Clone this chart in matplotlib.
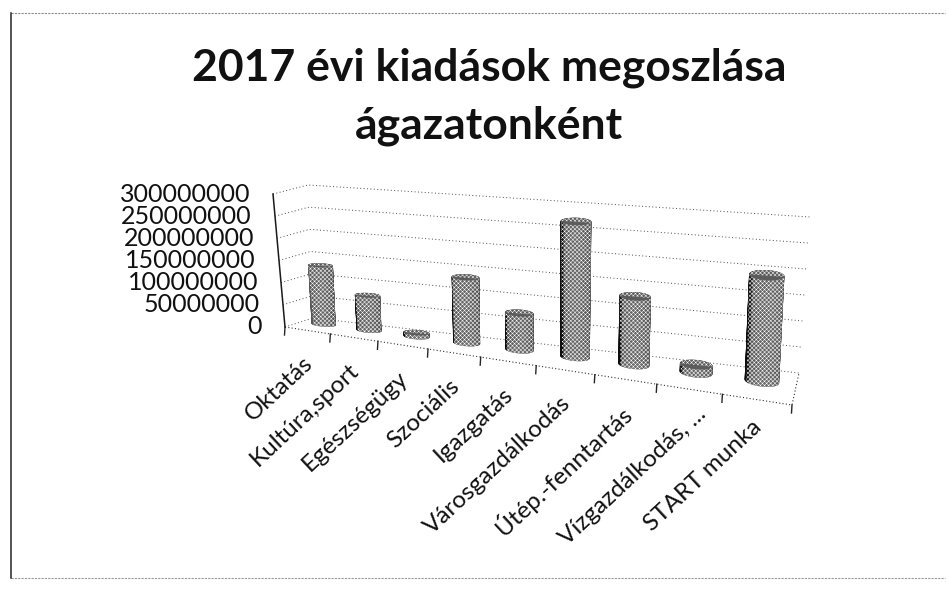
import matplotlib

matplotlib.use("Agg")
import matplotlib.pyplot as plt
import numpy as np

categories = ["Oktatás", "Kultúra,sport", "Egészségügy", "Szociális", "Igazgatás",
              "Városgazdálkodás", "Útép.-fenntartás", "Vízgazdálkodás, ...", "START munka"]
values = [132e6, 77e6, 8e6, 140e6, 77e6, 279e6, 138e6, 16e6, 206e6]
value_ticks = [0, 50000000, 100000000, 150000000, 200000000, 250000000, 300000000]
title_lines = ["2017 évi kiadások megoszlása", "ágazatonként"]

VMAX = 300e6
N = len(categories)
BAR_DEPTH = 0.6

# ── hand-fitted 3D look: floor corners in pixels, perspective along the category axis ──
FRONT_L, FRONT_R = np.array([285.0, 327.0]), np.array([792.0, 405.0])
DEPTH_L, DEPTH_R = np.array([28.0, -9.0]), np.array([7.0, -32.0])
PERSP = -0.0238
# labels that sit off the common anchor in the original (dx, dy in pixels)
LABEL_NUDGE = {"Vízgazdálkodás, ...": (12, -8), "START munka": (0, -6)}


def project(t, d, v):
    """category position t, depth d (0 front, 1 back), value v -> pixel x, y"""
    t, d, v = np.broadcast_arrays(np.asarray(t, float), np.asarray(d, float), np.asarray(v, float))
    s = ((1 + N * PERSP) / N) * t / (1 + PERSP * t)
    share = v / VMAX
    height = 133 + 23 * s
    lean = -12 + 7 * d + 16 * s
    x = FRONT_L[0] + (FRONT_R[0] - FRONT_L[0]) * s + d * (DEPTH_L[0] + (DEPTH_R[0] - DEPTH_L[0]) * s) + lean * share
    y = FRONT_L[1] + (FRONT_R[1] - FRONT_L[1]) * s + d * (DEPTH_L[1] + (DEPTH_R[1] - DEPTH_L[1]) * s) - height * share
    return x, y


def cylinder(ax, i, value, rx=0.25, rd=0.16, n=48):
    theta = np.linspace(0, 2 * np.pi, n + 1)
    cx = i + 0.5 + rx * np.cos(theta)
    cd = BAR_DEPTH + rd * np.sin(theta)
    bx, by = project(cx, cd, 0)
    tx, ty = project(cx, cd, value)
    lo, hi = min(bx.min(), tx.min()), max(bx.max(), tx.max())
    order = np.argsort((by[:-1] + by[1:]) / 2)
    for k in order:
        u = ((bx[k] + bx[k + 1]) / 2 - lo) / (hi - lo)
        shade = 0.05 if u < 0.1 else 0.3 + 0.1 * np.sin(np.pi * u)
        ax.fill([bx[k], bx[k + 1], tx[k + 1], tx[k]], [by[k], by[k + 1], ty[k + 1], ty[k]],
                color=str(shade), lw=0.3, zorder=3)
    ax.fill(tx, ty, color="0.36", lw=0.3, zorder=4)
    # scanner dither on top of the shaded body
    front = np.argsort(by)[-(n // 2):]
    front = front[np.argsort(bx[front])]
    sx = np.r_[tx[np.argmin(bx)], bx[front], tx[np.argmax(bx)], tx[::-1]]
    sy = np.r_[ty[np.argmin(bx)], by[front], ty[np.argmax(bx)], ty[::-1]]
    ax.fill(sx, sy, facecolor="none", edgecolor="white", hatch="xxxxxxxx", lw=0, zorder=5)


plt.rcParams["hatch.linewidth"] = 0.35
fig = plt.figure(figsize=(9.5, 5.89), dpi=100)
ax = fig.add_axes([0, 0, 1, 1])
ax.set_xlim(0, 950)
ax.set_ylim(589, 0)
ax.axis("off")

# scanned page frame
ax.plot([11, 945], [13, 13], color="0.55", lw=0.8, ls=(0, (2, 1)))
ax.plot([11, 945], [578, 578], color="0.6", lw=0.8, ls=(0, (2, 1)))
ax.plot([11, 11], [13, 578], color="0.15", lw=1.1)

for y, line in zip([80, 138], title_lines):
    ax.text(489, y, line, ha="center", va="baseline", fontsize=32, fontweight="bold",
            family="Lato", color="#111111")

# value gridlines run along the left wall, then the back wall
for v in value_ticks:
    xs, ys = project([0, 0, N], [0, 1, 1], v)
    ax.plot(xs, ys, color="0.3", lw=0.7, ls=(0, (1, 2.5)), zorder=1)
    lx, ly = project(0, 0, v)
    ax.text(lx - 23, ly, str(v), ha="right", va="center", fontsize=18, family="Lato", color="#111111")

# floor edges and category ticks
xs, ys = project([0, N, N], [0, 0, 1], 0)
ax.plot(xs, ys, color="0.2", lw=0.8, ls=(0, (1, 2)), zorder=1)
xs, ys = project([0, 0], [0, 0], [0, VMAX])
ax.plot(xs, ys, color="0.1", lw=1.1, zorder=2)
for i in range(N + 1):
    x, y = project(i, 0, 0)
    ax.plot([x, x - 0.5], [y, y + 8], color="0.15", lw=1.0, zorder=2)

for i, name in enumerate(categories):
    x, y = project(i + 0.5, 0, 0)
    dx, dy = LABEL_NUDGE.get(name, (0, 0))
    ax.text(x + 2 + dx, y + 30 + dy, name, rotation=43, rotation_mode="anchor", ha="right", va="center",
            fontsize=17.5, family="Lato", color="#111111")

for i, value in enumerate(values):
    cylinder(ax, i, value)

fig.savefig("out.png", dpi=100)
